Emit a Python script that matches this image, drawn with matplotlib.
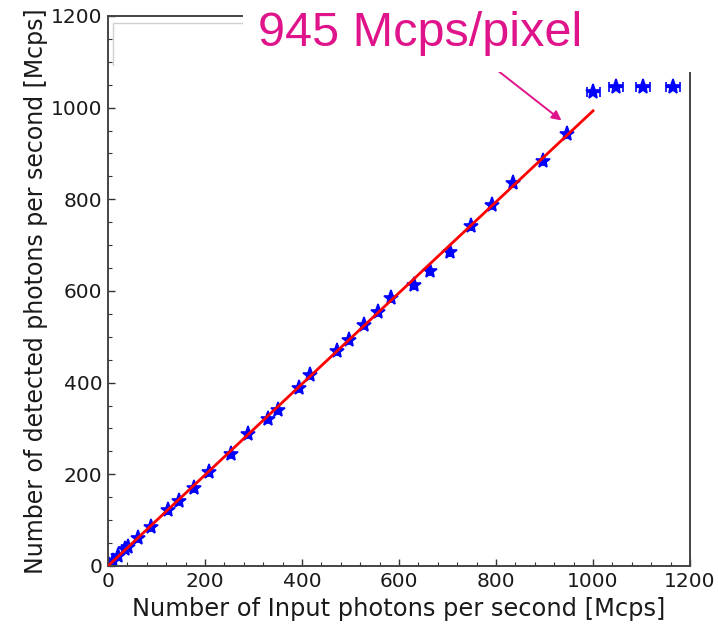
import matplotlib

matplotlib.use("Agg")
import matplotlib.pyplot as plt
from matplotlib.patches import Rectangle
from matplotlib.ticker import MultipleLocator

# measured points (input Mcps, detected Mcps) and x error
input_mcps = [0, 3, 10, 20, 35, 42, 62, 88, 124, 146, 177, 208, 253, 288,
              330, 350, 393, 416, 472, 497, 527, 557, 584, 631, 664, 705,
              748, 792, 835, 897, 946, 1001, 1047, 1103, 1165]
detected_mcps = [0, 3, 11, 22, 36, 42, 61, 85, 122, 141, 170, 205, 244, 289,
                 321, 340, 389, 417, 468, 492, 525, 555, 584, 612, 644, 686,
                 742, 788, 835, 884, 943, 1035, 1045, 1045, 1045]
input_err = [2] * 31 + [14, 14, 14, 14]

fit_x = [0, 1000]
fit_y = [0, 993]

annot_label = "945 Mcps/pixel"
annot_xy = (935, 972)
annot_tail = (795, 1088)

MAGENTA = "#E0148A"

fig = plt.figure(figsize=(7.18, 6.27), dpi=100)
ax = fig.add_axes([0.1504, 0.0973, 0.8106, 0.8772])

ax.plot(fit_x, fit_y, color="red", lw=2.0, zorder=3)
ax.errorbar(input_mcps, detected_mcps, xerr=input_err, fmt="*", color="blue",
            ms=11, mew=1.2, elinewidth=1.6, capsize=3.5, capthick=1.6, zorder=2)

ax.annotate("", xy=annot_xy, xytext=annot_tail,
            arrowprops=dict(arrowstyle="-|>", color=MAGENTA, lw=1.4,
                            mutation_scale=14, shrinkA=0, shrinkB=0))

ax.set_xlim(0, 1200)
ax.set_ylim(0, 1200)
ax.xaxis.set_major_locator(MultipleLocator(200))
ax.xaxis.set_minor_locator(MultipleLocator(40))
ax.yaxis.set_major_locator(MultipleLocator(200))
ax.yaxis.set_minor_locator(MultipleLocator(50))
ax.tick_params(which="both", direction="in", colors="#333333", labelcolor="#1a1a1a")
ax.tick_params(which="major", length=5, width=1.0, labelsize=14.5, pad=4)
ax.tick_params(which="minor", length=3, width=0.8)
for sp in ax.spines.values():
    sp.set_color("#444444")
    sp.set_linewidth(1.4)

ax.set_xlabel("Number of Input photons per second [Mcps]", fontsize=17.4,
              color="#1a1a1a", labelpad=5)
ax.set_ylabel("Number of detected photons per second [Mcps]", fontsize=17,
              color="#1a1a1a", labelpad=2)

# faint frame remnant in upper-left corner
ax.plot([0.009, 0.009, 0.3], [0.91, 0.988, 0.988], transform=ax.transAxes,
        color="#d0d0d0", lw=1.0, clip_on=False, zorder=1)

# white panel behind the callout text, hiding the top-right frame
fig.add_artist(Rectangle((243 / 718, 1 - 72 / 627), 1.0, 72 / 627,
                         transform=fig.transFigure, facecolor="white",
                         edgecolor="none", zorder=5))
fig.text(258 / 718, 1 - 11 / 627, annot_label, color=MAGENTA, fontsize=35,
         family="Liberation Sans", ha="left", va="top", zorder=6)

fig.savefig("out.png", dpi=100, facecolor="white")
